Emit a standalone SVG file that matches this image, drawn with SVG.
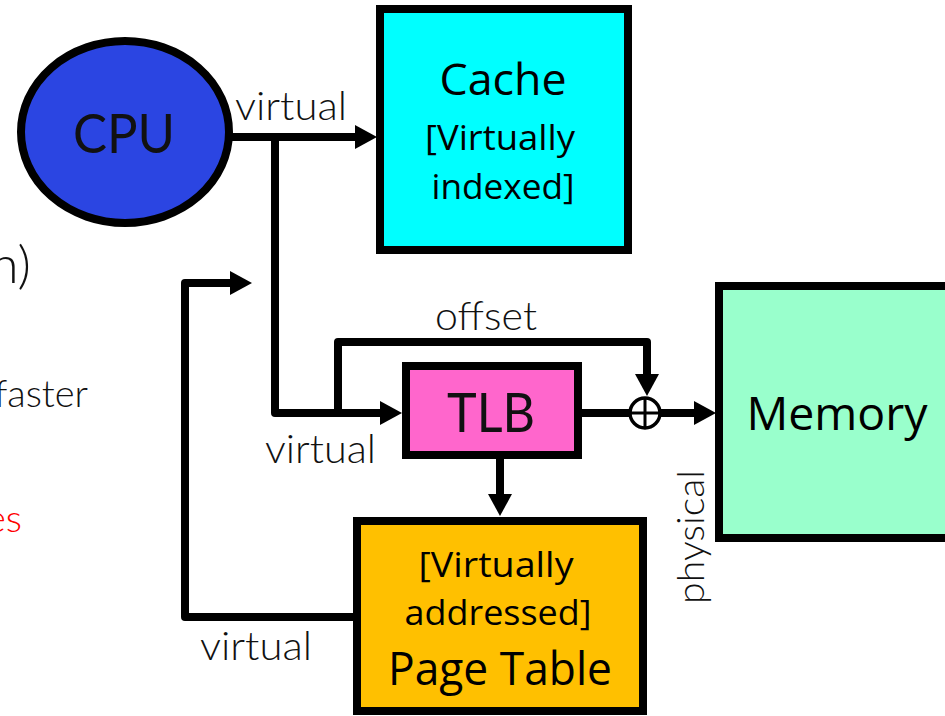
<svg xmlns="http://www.w3.org/2000/svg" width="945" height="716" viewBox="0 0 945 716">
  <style>
    .box { stroke: #000; stroke-width: 8; }
    .conn { fill: none; stroke: #000; stroke-width: 8; stroke-linejoin: round; }
    .lbl { font-family: Lato, "Liberation Sans", sans-serif; font-weight: 300; fill: #111; }
    .btx { font-family: "Open Sans", "Liberation Sans", sans-serif; fill: #000; text-anchor: middle; }
  </style>
  <defs>
    <marker id="arr" markerUnits="userSpaceOnUse" markerWidth="24" markerHeight="26" viewBox="0 -13 24 26" refX="1" refY="0" orient="auto">
      <path d="M0,-12 L22,0 L0,12 z" fill="#000"/>
    </marker>
  </defs>
  <rect width="945" height="716" fill="#fff"/>

  <!-- cropped slide text on the left -->
  <g id="side-text" class="lbl" text-anchor="end">
    <text x="31" y="283" font-size="52">n)</text>
    <text x="88" y="407" font-size="38">faster</text>
    <text x="22" y="532" font-size="38" fill="#ff0000" style="fill:#ff0000">es</text>
  </g>

  <g id="connectors">
    <path class="conn" d="M228,137 H356" marker-end="url(#arr)"/>
    <path class="conn" d="M275,137 V413 H381" marker-end="url(#arr)"/>
    <path class="conn" d="M338,413 V342 H647 V375" marker-end="url(#arr)"/>
    <path class="conn" d="M582,413 H630"/>
    <path class="conn" d="M661,413 H695" marker-end="url(#arr)"/>
    <path class="conn" d="M500,459 V495" marker-end="url(#arr)"/>
    <path class="conn" d="M355,617 H185 V283 H231" marker-end="url(#arr)"/>
    <g id="adder">
      <circle cx="645" cy="413" r="15" fill="#fff" stroke="#000" stroke-width="3.5"/>
      <path d="M645,398 V428 M630,413 H660" stroke="#000" stroke-width="3" fill="none"/>
    </g>
  </g>

  <g id="labels" class="lbl">
    <text x="235" y="120" font-size="40" textLength="112" lengthAdjust="spacingAndGlyphs">virtual</text>
    <text x="435" y="330" font-size="40" textLength="102" lengthAdjust="spacingAndGlyphs">offset</text>
    <text x="265" y="463" font-size="40" textLength="111" lengthAdjust="spacingAndGlyphs">virtual</text>
    <text x="200" y="660" font-size="40" textLength="112" lengthAdjust="spacingAndGlyphs">virtual</text>
    <text transform="translate(704,537) rotate(-90)" text-anchor="middle" font-size="38" textLength="134" lengthAdjust="spacingAndGlyphs">physical</text>
  </g>

  <g id="cpu">
    <ellipse cx="125" cy="132" rx="104" ry="91" fill="#2b45e2" stroke="#000" stroke-width="8"/>
    <text class="lbl" x="124" y="153" font-size="55" text-anchor="middle" textLength="102" lengthAdjust="spacingAndGlyphs" style="font-weight:400">CPU</text>
  </g>

  <g id="cache">
    <rect class="box" x="380" y="9" width="248" height="241" fill="#00ffff"/>
    <text class="btx" x="503" y="95" font-size="44" textLength="127" lengthAdjust="spacingAndGlyphs">Cache</text>
    <text class="btx" x="500" y="150" font-size="34" textLength="150" lengthAdjust="spacingAndGlyphs">[Virtually</text>
    <text class="btx" x="503" y="199" font-size="34" textLength="143" lengthAdjust="spacingAndGlyphs">indexed]</text>
  </g>

  <g id="tlb">
    <rect class="box" x="406" y="366" width="172" height="89" fill="#ff66cc"/>
    <text class="lbl" x="491" y="432" font-size="55" text-anchor="middle" textLength="88" lengthAdjust="spacingAndGlyphs" style="font-weight:400">TLB</text>
  </g>

  <g id="memory">
    <rect class="box" x="719" y="286" width="240" height="252" fill="#99ffcc"/>
    <text class="btx" x="837" y="430" font-size="46" textLength="181" lengthAdjust="spacingAndGlyphs">Memory</text>
  </g>

  <g id="page-table">
    <rect class="box" x="357" y="521" width="286" height="190" fill="#ffc000"/>
    <text class="btx" x="496" y="577" font-size="34" textLength="155" lengthAdjust="spacingAndGlyphs">[Virtually</text>
    <text class="btx" x="498" y="625" font-size="34" textLength="187" lengthAdjust="spacingAndGlyphs">addressed]</text>
    <text class="btx" x="500" y="685" font-size="46" textLength="224" lengthAdjust="spacingAndGlyphs">Page Table</text>
  </g>
</svg>
